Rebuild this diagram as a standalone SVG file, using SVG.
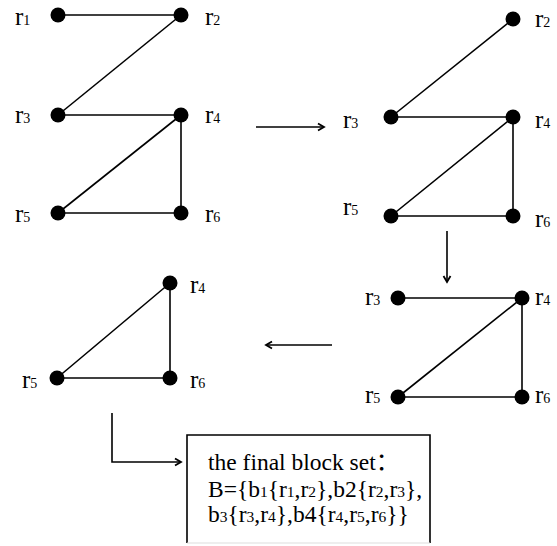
<svg xmlns="http://www.w3.org/2000/svg" width="557" height="546" viewBox="0 0 557 546">
<defs>
<style>
.e{stroke:#000;stroke-width:1.6;fill:none}
.n{fill:#000}
.l{font-family:'Liberation Serif',serif;font-size:25px;fill:#000}
.s{font-size:14px}
.t{font-family:'Liberation Serif','Noto Sans CJK SC',serif;font-size:23.5px;fill:#000}
.ts{font-size:15.5px}
.a{stroke:#000;stroke-width:1.6;fill:none}
</style>
<marker id="ah" markerWidth="10" markerHeight="10" refX="7" refY="5" orient="auto" markerUnits="userSpaceOnUse">
<path d="M1,1.5 L7,5 L1,8.5" fill="none" stroke="#000" stroke-width="1.8"/>
</marker>
</defs>
<rect width="557" height="546" fill="#fff"/>
<g id="connectors">
<line class="e" x1="58" y1="15" x2="181" y2="15"/>
<line class="e" x1="181" y1="15" x2="58" y2="115"/>
<line class="e" x1="58" y1="115" x2="181" y2="115"/>
<line class="e" x1="181" y1="115" x2="58" y2="213"/>
<line class="e" x1="181" y1="115" x2="181" y2="213"/>
<line class="e" x1="58" y1="213" x2="181" y2="213"/>
<line class="e" x1="513" y1="19" x2="391" y2="117"/>
<line class="e" x1="391" y1="117" x2="513" y2="117"/>
<line class="e" x1="513" y1="117" x2="391" y2="216"/>
<line class="e" x1="513" y1="117" x2="513" y2="216"/>
<line class="e" x1="391" y1="216" x2="513" y2="216"/>
<line class="e" x1="398" y1="298" x2="522" y2="298"/>
<line class="e" x1="522" y1="298" x2="398" y2="397"/>
<line class="e" x1="522" y1="298" x2="522" y2="397"/>
<line class="e" x1="398" y1="397" x2="522" y2="397"/>
<line class="e" x1="170" y1="283" x2="57" y2="378"/>
<line class="e" x1="170" y1="283" x2="170" y2="378"/>
<line class="e" x1="57" y1="378" x2="170" y2="378"/>
<line class="a" x1="256" y1="127" x2="324" y2="127" marker-end="url(#ah)"/>
<line class="a" x1="447" y1="231" x2="447" y2="282" marker-end="url(#ah)"/>
<line class="a" x1="332" y1="345" x2="266" y2="345" marker-end="url(#ah)"/>
<polyline class="a" points="112,413 112,462 181,462" marker-end="url(#ah)"/>
</g>
<g id="g1">
<g id="g1-r1"><circle class="n" cx="58" cy="15" r="7.5"/><text class="l" x="15" y="25">r<tspan class="s">1</tspan></text></g>
<g id="g1-r2"><circle class="n" cx="181" cy="15" r="7.5"/><text class="l" x="205" y="25">r<tspan class="s">2</tspan></text></g>
<g id="g1-r3"><circle class="n" cx="58" cy="115" r="7.5"/><text class="l" x="15" y="123">r<tspan class="s">3</tspan></text></g>
<g id="g1-r4"><circle class="n" cx="181" cy="115" r="7.5"/><text class="l" x="205" y="123">r<tspan class="s">4</tspan></text></g>
<g id="g1-r5"><circle class="n" cx="58" cy="213" r="7.5"/><text class="l" x="15" y="222">r<tspan class="s">5</tspan></text></g>
<g id="g1-r6"><circle class="n" cx="181" cy="213" r="7.5"/><text class="l" x="205" y="222">r<tspan class="s">6</tspan></text></g>
</g>
<g id="g2">
<g id="g2-r2"><circle class="n" cx="513" cy="19" r="7.5"/><text class="l" x="535" y="27">r<tspan class="s">2</tspan></text></g>
<g id="g2-r3"><circle class="n" cx="391" cy="117" r="7.5"/><text class="l" x="343" y="128">r<tspan class="s">3</tspan></text></g>
<g id="g2-r4"><circle class="n" cx="513" cy="117" r="7.5"/><text class="l" x="535" y="128">r<tspan class="s">4</tspan></text></g>
<g id="g2-r5"><circle class="n" cx="391" cy="216" r="7.5"/><text class="l" x="343" y="215">r<tspan class="s">5</tspan></text></g>
<g id="g2-r6"><circle class="n" cx="513" cy="216" r="7.5"/><text class="l" x="535" y="227">r<tspan class="s">6</tspan></text></g>
</g>
<g id="g3">
<g id="g3-r3"><circle class="n" cx="398" cy="298" r="7.5"/><text class="l" x="365" y="305">r<tspan class="s">3</tspan></text></g>
<g id="g3-r4"><circle class="n" cx="522" cy="298" r="7.5"/><text class="l" x="535" y="305">r<tspan class="s">4</tspan></text></g>
<g id="g3-r5"><circle class="n" cx="398" cy="397" r="7.5"/><text class="l" x="365" y="403">r<tspan class="s">5</tspan></text></g>
<g id="g3-r6"><circle class="n" cx="522" cy="397" r="7.5"/><text class="l" x="535" y="403">r<tspan class="s">6</tspan></text></g>
</g>
<g id="g4">
<g id="g4-r4"><circle class="n" cx="170" cy="283" r="7.5"/><text class="l" x="190" y="293">r<tspan class="s">4</tspan></text></g>
<g id="g4-r5"><circle class="n" cx="57" cy="378" r="7.5"/><text class="l" x="22" y="388">r<tspan class="s">5</tspan></text></g>
<g id="g4-r6"><circle class="n" cx="170" cy="378" r="7.5"/><text class="l" x="190" y="388">r<tspan class="s">6</tspan></text></g>
</g>
<g id="result">
<path d="M187,543 L187,435 L430,435 L430,543" fill="none" stroke="#000" stroke-width="1.6"/>
<line x1="187" y1="543" x2="430" y2="543" stroke="#ddd" stroke-width="1"/>
<text class="t" x="208" y="470">the final block set：</text>
<text class="t" x="208" y="497">B={b<tspan class="ts">1</tspan>{r<tspan class="ts">1</tspan>,r<tspan class="ts">2</tspan>},b2{r<tspan class="ts">2</tspan>,r<tspan class="ts">3</tspan>},</text>
<text class="t" x="208" y="522">b<tspan class="ts">3</tspan>{r<tspan class="ts">3</tspan>,r<tspan class="ts">4</tspan>},b4{r<tspan class="ts">4</tspan>,r<tspan class="ts">5</tspan>,r<tspan class="ts">6</tspan>}}</text>
</g>
</svg>
